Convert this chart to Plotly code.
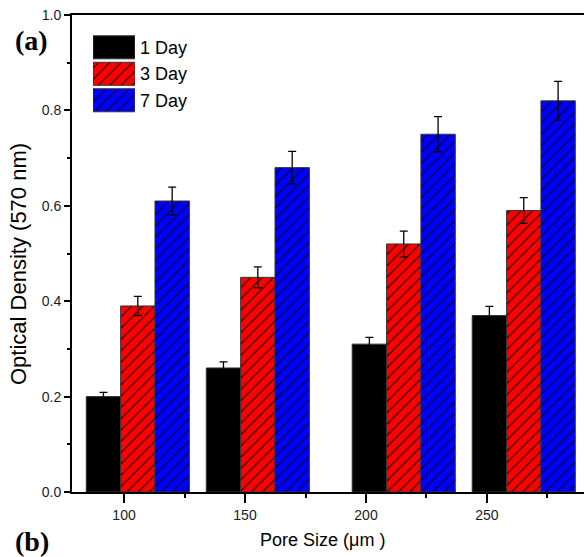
import plotly.graph_objects as go

# ---- data ----
pore_size = [100, 150, 200, 250]          # µm
series_names = ["1 Day", "3 Day", "7 Day"]
od_1day = [0.20, 0.26, 0.31, 0.37]
od_3day = [0.39, 0.45, 0.52, 0.59]
od_7day = [0.61, 0.68, 0.75, 0.82]
err_1day = [0.009, 0.013, 0.014, 0.019]
err_3day = [0.020, 0.022, 0.027, 0.027]
err_7day = [0.029, 0.034, 0.037, 0.041]

# ---- styling / layout ----
FONT = "Arial, Liberation Sans, sans-serif"
SERIF = "Times New Roman, Liberation Serif, serif"
group_shift = [5.7, 5.3, 15.6, 15.2]      # group placement along the pore-size axis
bar_w = 14.2
offsets = [-1.5 * bar_w, -0.5 * bar_w, 0.5 * bar_w]
colors = ["black", "#ff0000", "#0000ff"]
hatch = ["", "/", "/"]


def marker_style(i):
    m = dict(color=colors[i], line=dict(color="#333333", width=1))
    if hatch[i]:
        m["pattern"] = dict(shape=hatch[i], fillmode="replace", bgcolor=colors[i],
                            fgcolor="black", size=8, solidity=0.13)
    return m


fig = go.Figure()
values = [od_1day, od_3day, od_7day]
errors = [err_1day, err_3day, err_7day]
xpos = [p + s for p, s in zip(pore_size, group_shift)]

for i, name in enumerate(series_names):
    fig.add_trace(go.Bar(
        x=xpos, y=values[i], name=name, width=bar_w, offset=offsets[i],
        marker=marker_style(i), showlegend=False,
        error_y=dict(type="data", array=errors[i], color="black", thickness=1.3, width=4),
    ))

# key swatches drawn as a small horizontal bar chart
for i, name in enumerate(series_names):
    fig.add_trace(go.Bar(
        x=[1], y=[name], orientation="h", width=0.87, xaxis="x2", yaxis="y2",
        marker=marker_style(i), showlegend=False, hoverinfo="skip",
    ))

fig.update_layout(
    width=584, height=557,
    margin=dict(l=72, r=0, t=15, b=65),
    paper_bgcolor="white", plot_bgcolor="white",
    barmode="overlay",
    font=dict(family=FONT, color="#222222"),
    xaxis=dict(
        range=[78.5, 290.1], tickmode="linear", tick0=0, dtick=50,
        showline=True, linecolor="black", linewidth=2, mirror=True,
        ticks="outside", ticklen=9, tickwidth=1.5, tickcolor="black",
        minor=dict(dtick=25, ticks="outside", ticklen=4, tickwidth=1.5, tickcolor="black"),
        showgrid=False, zeroline=False, tickfont=dict(size=14, family=FONT, color="#1a1a2e"),
    ),
    yaxis=dict(
        range=[0, 1.0], tickmode="linear", tick0=0, dtick=0.2, tickformat=".1f",
        showline=True, linecolor="black", linewidth=2, mirror=False,
        ticks="outside", ticklen=6, tickwidth=1.5, tickcolor="black",
        minor=dict(dtick=0.1, ticks="outside", ticklen=3, tickwidth=1.5, tickcolor="black"),
        showgrid=False, zeroline=False, tickfont=dict(size=14, family=FONT, color="#1a1a2e"),
    ),
    xaxis2=dict(domain=[0.041, 0.123], range=[0, 1], anchor="y2",
                visible=False, fixedrange=True),
    yaxis2=dict(domain=[0.7935, 0.960], anchor="x2", side="right",
                type="category", categoryorder="array",
                categoryarray=series_names[::-1], range=[-0.5, 2.5],
                showline=False, showgrid=False, zeroline=False, ticks="",
                ticklabelstandoff=4,
                tickfont=dict(size=18, family=FONT, color="black")),
    annotations=[
        dict(text="Pore Size (μm )", xref="paper", yref="paper", x=0.490, y=-0.1006,
             xanchor="center", yanchor="middle", showarrow=False,
             font=dict(size=18, family=FONT, color="black")),
        dict(text="Optical Density (570 nm)", xref="paper", yref="paper", x=-0.1035, y=0.478,
             xanchor="center", yanchor="middle", showarrow=False, textangle=-90,
             font=dict(size=22, family=FONT, color="black")),
        dict(text="<b>(a)</b>", xref="paper", yref="paper", x=-0.116, y=0.946,
             xanchor="left", yanchor="middle", showarrow=False,
             font=dict(size=28, family=SERIF, color="black")),
        dict(text="<b>(b)</b>", xref="paper", yref="paper", x=-0.116, y=-0.103,
             xanchor="left", yanchor="middle", showarrow=False,
             font=dict(size=28, family=SERIF, color="black")),
    ],
)

fig.write_html("out.html")
